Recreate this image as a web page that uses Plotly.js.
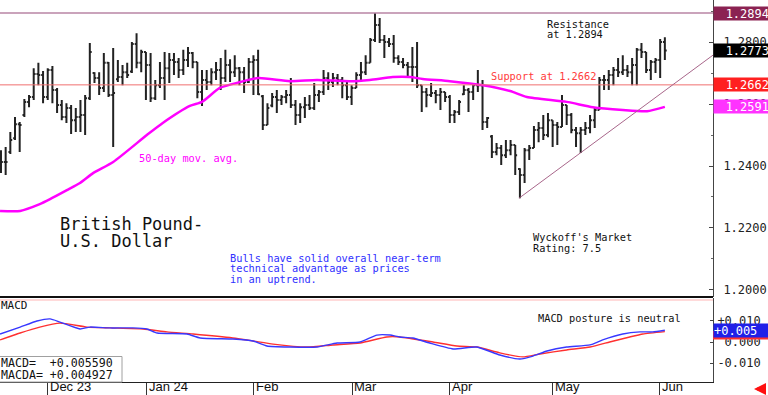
<!DOCTYPE html>
<html>
<head>
<meta charset="utf-8">
<script src="https://cdn.plot.ly/plotly-3.0.1.min.js"></script>
<style>html,body{margin:0;padding:0;background:#fff;}#chart{width:768px;height:395px;}</style>
</head>
<body>
<div id="chart"></div>
<script>
// ---- Data ----
const highs = [1.2451,1.2461,1.2510,1.2558,1.2542,1.2616,1.2629,1.2716,1.2733,1.2707,
1.2716,1.2723,1.2652,1.2613,1.2603,1.2597,1.2587,1.2613,1.2629,1.2797,
1.2703,1.2703,1.2765,1.2736,1.2781,1.2742,1.2726,1.2733,1.2800,1.2829,
1.2775,1.2768,1.2765,1.2678,1.2736,1.2768,1.2765,1.2765,1.2749,1.2775,
1.2784,1.2768,1.2736,1.2710,1.2710,1.2716,1.2736,1.2749,1.2775,1.2745,
1.2758,1.2720,1.2720,1.2749,1.2758,1.2775,1.2629,1.2603,1.2636,1.2645,
1.2629,1.2645,1.2684,1.2613,1.2603,1.2623,1.2629,1.2668,1.2645,1.2710,
1.2703,1.2700,1.2697,1.2687,1.2678,1.2661,1.2703,1.2736,1.2758,1.2813,
1.2894,1.2878,1.2823,1.2813,1.2823,1.2758,1.2749,1.2736,1.2784,1.2800,
1.2661,1.2652,1.2668,1.2645,1.2652,1.2639,1.2629,1.2581,1.2613,1.2661,
1.2652,1.2668,1.2710,1.2678,1.2558,1.2500,1.2474,1.2468,1.2484,1.2484,
1.2468,1.2393,1.2458,1.2468,1.2529,1.2542,1.2565,1.2571,1.2548,1.2542,
1.2629,1.2597,1.2571,1.2526,1.2526,1.2542,1.2565,1.2590,1.2687,1.2694,
1.2710,1.2720,1.2749,1.2758,1.2726,1.2749,1.2781,1.2797,1.2768,1.2742,
1.2749,1.2810,1.2816];
const lows = [1.2377,1.2371,1.2439,1.2484,1.2445,1.2558,1.2590,1.2613,1.2661,1.2603,
1.2613,1.2603,1.2571,1.2548,1.2539,1.2503,1.2510,1.2510,1.2500,1.2613,
1.2668,1.2629,1.2639,1.2623,1.2461,1.2671,1.2661,1.2684,1.2700,1.2716,
1.2703,1.2613,1.2607,1.2613,1.2652,1.2613,1.2668,1.2694,1.2684,1.2694,
1.2720,1.2716,1.2619,1.2594,1.2645,1.2661,1.2678,1.2645,1.2671,1.2671,
1.2687,1.2661,1.2636,1.2668,1.2629,1.2629,1.2516,1.2532,1.2590,1.2571,
1.2597,1.2603,1.2587,1.2532,1.2539,1.2555,1.2581,1.2581,1.2607,1.2629,
1.2645,1.2655,1.2661,1.2619,1.2613,1.2597,1.2652,1.2671,1.2694,1.2733,
1.2800,1.2797,1.2749,1.2784,1.2733,1.2726,1.2716,1.2684,1.2671,1.2652,
1.2574,1.2590,1.2623,1.2603,1.2581,1.2607,1.2539,1.2539,1.2565,1.2629,
1.2574,1.2613,1.2639,1.2516,1.2523,1.2426,1.2435,1.2403,1.2426,1.2435,
1.2371,1.2296,1.2345,1.2419,1.2458,1.2477,1.2484,1.2493,1.2461,1.2468,
1.2526,1.2532,1.2506,1.2461,1.2442,1.2500,1.2506,1.2523,1.2581,1.2645,
1.2645,1.2661,1.2687,1.2694,1.2687,1.2661,1.2661,1.2749,1.2700,1.2678,
1.2700,1.2684,1.2742];
const closes = [1.2413,1.2413,1.2484,1.2535,1.2532,1.2607,1.2623,1.2697,1.2694,1.2623,
1.2710,1.2645,1.2597,1.2558,1.2587,1.2548,1.2558,1.2565,1.2619,1.2768,
1.2684,1.2652,1.2733,1.2629,1.2636,1.2687,1.2703,1.2694,1.2794,1.2733,
1.2768,1.2726,1.2619,1.2661,1.2684,1.2716,1.2742,1.2736,1.2710,1.2742,
1.2765,1.2736,1.2639,1.2678,1.2671,1.2703,1.2710,1.2684,1.2726,1.2703,
1.2716,1.2703,1.2671,1.2736,1.2742,1.2632,1.2532,1.2587,1.2623,1.2613,
1.2623,1.2629,1.2597,1.2565,1.2590,1.2597,1.2587,1.2629,1.2639,1.2684,
1.2671,1.2684,1.2678,1.2661,1.2623,1.2652,1.2694,1.2703,1.2733,1.2807,
1.2855,1.2807,1.2800,1.2794,1.2749,1.2736,1.2726,1.2720,1.2720,1.2661,
1.2639,1.2629,1.2636,1.2629,1.2639,1.2623,1.2565,1.2574,1.2607,1.2645,
1.2639,1.2661,1.2661,1.2542,1.2555,1.2445,1.2458,1.2435,1.2451,1.2468,
1.2435,1.2371,1.2451,1.2458,1.2516,1.2523,1.2500,1.2548,1.2532,1.2526,
1.2597,1.2565,1.2516,1.2506,1.2516,1.2523,1.2548,1.2581,1.2678,1.2678,
1.2694,1.2710,1.2703,1.2710,1.2703,1.2726,1.2775,1.2768,1.2710,1.2736,
1.2742,1.2800,1.2773];
const opens = [1.2440,1.2413,1.2445,1.2490,1.2535,1.2565,1.2607,1.2623,1.2697,1.2694,
1.2623,1.2710,1.2645,1.2597,1.2558,1.2587,1.2548,1.2558,1.2565,1.2619,
1.2700,1.2684,1.2652,1.2733,1.2629,1.2680,1.2687,1.2703,1.2705,1.2794,
1.2733,1.2768,1.2726,1.2619,1.2661,1.2684,1.2716,1.2742,1.2736,1.2710,
1.2742,1.2765,1.2736,1.2639,1.2678,1.2671,1.2703,1.2710,1.2684,1.2726,
1.2703,1.2716,1.2703,1.2671,1.2736,1.2742,1.2625,1.2532,1.2595,1.2623,
1.2613,1.2623,1.2629,1.2597,1.2565,1.2590,1.2597,1.2587,1.2629,1.2639,
1.2684,1.2671,1.2684,1.2678,1.2661,1.2623,1.2652,1.2694,1.2703,1.2733,
1.2807,1.2855,1.2807,1.2800,1.2794,1.2749,1.2736,1.2726,1.2720,1.2720,
1.2661,1.2639,1.2629,1.2636,1.2629,1.2639,1.2623,1.2565,1.2574,1.2632,
1.2645,1.2639,1.2661,1.2661,1.2542,1.2495,1.2445,1.2458,1.2435,1.2451,
1.2468,1.2390,1.2371,1.2451,1.2458,1.2516,1.2523,1.2500,1.2548,1.2532,
1.2526,1.2597,1.2565,1.2516,1.2506,1.2516,1.2523,1.2548,1.2581,1.2678,
1.2678,1.2694,1.2710,1.2703,1.2710,1.2703,1.2726,1.2775,1.2768,1.2710,
1.2736,1.2742,1.2800];

// 50-day moving average, sampled points (bar position, price)
const maPos = [-0.2,4.1,8.3,10.5,14.1,16.9,19.7,24.0,31.2,34.6,40.4,43.0,46.8,51.1,55.0,61.8,67.6,74.6,78.9,83.8,87.5,90.2,96.0,103.1,108.9,112.5,121.0,126.6,133.0,138.2,142.0];
const maVal = [1.2255,1.2255,1.2277,1.2293,1.2322,1.2345,1.2377,1.2413,1.2500,1.2539,1.2594,1.2607,1.2652,1.2671,1.2684,1.2674,1.2678,1.2674,1.2678,1.2687,1.2687,1.2681,1.2674,1.2661,1.2642,1.2623,1.2607,1.2590,1.2581,1.2577,1.2591];

// MACD (blue) and MACDA (red) sampled points
const macdPos = [-0.2,4.1,7.7,10.5,12.6,16.9,19.0,23.3,28.2,31.2,33.4,39.8,42.6,49.6,53.9,56.9,61.8,67.6,71.9,76.8,80.4,83.2,85.3,88.1,91.7,96.7,101.8,106.7,111.0,113.8,116.8,121.0,126.0,128.7,133.0,136.7,139.4,142.0];
const macdVal = [0.0038,0.0071,0.0100,0.0110,0.0095,0.0062,0.0071,0.0067,0.0067,0.0062,0.0043,0.0038,0.0019,0.0014,0.0005,-0.0019,-0.0024,-0.0024,-0.0005,0.0000,0.0033,0.0033,0.0024,0.0019,-0.0005,-0.0033,-0.0024,-0.0062,-0.0081,-0.0067,-0.0043,-0.0024,-0.0014,0.0010,0.0038,0.0048,0.0048,0.00559];
const macdaPos = [-0.2,4.1,8.3,12.6,18.4,23.3,30.4,35.5,41.1,49.6,53.9,58.2,65.4,71.0,76.8,82.5,85.3,92.4,97.5,101.8,106.7,111.6,115.3,121.0,126.0,130.2,134.5,137.3,142.0];
const macdaVal = [0.0010,0.0043,0.0071,0.0090,0.0071,0.0067,0.0062,0.0048,0.0038,0.0019,0.0005,-0.0010,-0.0024,-0.0014,-0.0005,0.0024,0.0024,0.0000,-0.0019,-0.0024,-0.0052,-0.0071,-0.0057,-0.0038,-0.0024,0.0000,0.0024,0.0038,0.004927];

// Levels and trend line
const resistance = 1.2894;
const support = 1.2662;
const lastClose = 1.2773;
const lastMA = 1.2591;
const trendPos = [110.8, 152.3];
const trendVal = [1.2296, 1.2758];

// Axis ticks
const monthPos = [10.05, 31.2, 54.1, 75.1, 96.0, 118.0, 140.9];
const monthText = ['Dec 23', 'Jan 24', 'Feb', 'Mar', 'Apr', 'May', 'Jun'];
const priceTicks = [1.20, 1.22, 1.24, 1.26, 1.28];
const priceTickText = ['1.2000', '1.2200', '1.2400', '1.2600', '1.2800'];
const macdTicks = [-0.01, 0, 0.01];
const macdTickText = ['-0.010', '\u00a00.000', '+0.010'];

// ---- Chart ----
const barPos = highs.map((_, i) => i);
const MONO = 'DejaVu Sans Mono';

const traces = [
  {
    type: 'ohlc', x: barPos, open: opens, high: highs, low: lows, close: closes,
    xaxis: 'x', yaxis: 'y', tickwidth: 0.4,
    increasing: {line: {color: '#222', width: 2}},
    decreasing: {line: {color: '#222', width: 2}},
    hoverinfo: 'skip'
  },
  {
    type: 'scatter', mode: 'lines', x: maPos, y: maVal, xaxis: 'x', yaxis: 'y',
    line: {color: '#ff00ff', width: 2.5, shape: 'spline', smoothing: 0.6}, hoverinfo: 'skip'
  },
  {
    type: 'scatter', mode: 'lines', x: macdaPos, y: macdaVal, xaxis: 'x', yaxis: 'y2',
    line: {color: '#ff3030', width: 1.4, shape: 'spline', smoothing: 0.5}, hoverinfo: 'skip'
  },
  {
    type: 'scatter', mode: 'lines', x: macdPos, y: macdVal, xaxis: 'x', yaxis: 'y2',
    line: {color: '#3838ff', width: 1.4, shape: 'spline', smoothing: 0.5}, hoverinfo: 'skip'
  }
];

const H = 382; // plot height in px
const W = 713;
const py = p => 1 - p / H;
const px = p => p / W;

function boxLabel(y, yref, text, bg, align) {
  return {xref: 'paper', x: 1, xanchor: 'left', yref: yref, y: y, yanchor: 'middle',
    text: text, showarrow: false, width: 55, height: 13, bgcolor: bg, borderpad: 0,
    align: align || 'right', font: {family: MONO, size: 12, color: '#fff'}};
}
function note(x, y, text, color, size, family) {
  return {xref: 'paper', yref: 'paper', x: x, y: y, xanchor: 'left', yanchor: 'middle',
    text: text, showarrow: false, borderpad: 0,
    font: {family: family || MONO, size: size, color: color}};
}

const annotations = [
  boxLabel(resistance, 'y', resistance.toFixed(4), '#8b2252'),
  boxLabel(lastClose, 'y', lastClose.toFixed(4), '#000000'),
  boxLabel(support, 'y', support.toFixed(4), '#ff2020'),
  boxLabel(lastMA, 'y', lastMA.toFixed(4), '#ff33ff'),
  boxLabel(macdVal[macdVal.length - 1], 'y2', '+0.005', '#2020e8', 'left'),
  note(px(546), py(23.5), 'Resistance', '#111', 10.3),
  note(px(546), py(33.5), 'at 1.2894', '#111', 10.3),
  note(px(490), py(75.5), 'Support at 1.2662', '#ff3b3b', 10.3),
  note(px(138), py(157.5), '50-day mov. avg.', '#ff00ff', 10.3),
  note(px(59), py(223.5), 'British Pound-', '#111', 17),
  note(px(59), py(240.5), 'U.S. Dollar', '#111', 17),
  note(px(229), py(257.5), 'Bulls have solid overall near-term', '#3030ff', 10.3),
  note(px(229), py(268), 'technical advantage as prices', '#3030ff', 10.3),
  note(px(229), py(278.5), 'in an uptrend.', '#3030ff', 10.3),
  note(px(532), py(237), "Wyckoff's Market", '#111', 10.3),
  note(px(532), py(247.5), 'Rating: 7.5', '#111', 10.3),
  note(px(537), py(318), 'MACD posture is neutral', '#111', 10.3),
  note(0, py(305), 'MACD', '#111', 11),
  note(0, py(362.5), 'MACD=\u00a0\u00a0+0.005590', '#111', 11.6),
  note(0, py(374.5), 'MACDA=\u00a0+0.004927', '#111', 11.6),
  {xref: 'paper', yref: 'paper', x: px(754), y: py(389), ax: 12, ay: 0, axref: 'pixel', ayref: 'pixel',
   text: '', showarrow: true, arrowhead: 2, arrowsize: 0.8, arrowwidth: 3, arrowcolor: '#ff1010'}
];
monthPos.forEach((m, i) => {
  annotations.push({xref: 'x', yref: 'paper', x: m, y: py(395), xanchor: 'left', yanchor: 'bottom',
    xshift: 1, text: monthText[i], showarrow: false, borderpad: 0,
    font: {family: 'Liberation Sans', size: 13, color: '#111'}});
});

const lastMacda = macdaVal[macdaVal.length - 1];
const shapes = [
  {type: 'line', xref: 'paper', yref: 'y', x0: 0, x1: 1, y0: resistance, y1: resistance,
   line: {color: '#b884a4', width: 1.5}},
  {type: 'line', xref: 'paper', yref: 'y', x0: 0, x1: 1, y0: support, y1: support,
   line: {color: '#f07070', width: 1}},
  {type: 'line', xref: 'x', yref: 'y', x0: trendPos[0], x1: trendPos[1], y0: trendVal[0], y1: trendVal[1],
   line: {color: '#a8668a', width: 1}},
  {type: 'line', xref: 'paper', yref: 'y2', x0: 0, x1: 1, y0: 0.02, y1: 0.02,
   line: {color: '#ffb4b4', width: 1}},
  {type: 'line', xref: 'paper', yref: 'paper', x0: 0, x1: 1, y0: py(297), y1: py(297),
   line: {color: '#111', width: 2}},
  {type: 'rect', xref: 'paper', yref: 'paper', x0: -0.01, x1: px(122), y0: 0, y1: py(356.5),
   line: {color: '#a0a0a0', width: 1}, fillcolor: 'rgba(255,255,255,0)'},
  // MACDA value box, mostly hidden behind the MACD box
  {type: 'rect', xref: 'paper', yref: 'y2', x0: 1, x1: 768 / W, y0: lastMacda - 0.0037, y1: lastMacda + 0.0003,
   line: {width: 0}, fillcolor: '#ff3030'}
];

const layout = {
  width: 768, height: 395,
  margin: {l: 0, r: 55, t: 0, b: 13, pad: 0},
  paper_bgcolor: '#fff', plot_bgcolor: '#fff',
  showlegend: false,
  xaxis: {
    range: [-0.21, 152.3], anchor: 'y2', domain: [0, 1],
    showgrid: false, zeroline: false, showline: true, linecolor: '#222', linewidth: 1,
    ticks: 'outside', ticklen: 13, tickwidth: 1, tickcolor: '#333',
    tickmode: 'array', tickvals: monthPos, showticklabels: false,
    rangeslider: {visible: false}, fixedrange: true
  },
  yaxis: {
    domain: [py(297), 1], range: [1.1977, 1.2936], side: 'right', anchor: 'x',
    showgrid: false, zeroline: false, showline: true, linecolor: '#444', linewidth: 1,
    tickmode: 'array', tickvals: priceTicks, ticktext: priceTickText,
    ticks: 'inside', ticklen: 4, tickcolor: '#444', ticklabelstandoff: 7,
    minor: {ticks: 'inside', ticklen: 2, dtick: 0.01, tickcolor: '#666'},
    tickfont: {family: MONO, size: 12, color: '#222'}, fixedrange: true
  },
  yaxis2: {
    domain: [0, py(298)], range: [-0.01905, 0.02095], side: 'right', anchor: 'x',
    showgrid: false, zeroline: false, showline: true, linecolor: '#444', linewidth: 1,
    tickmode: 'array', tickvals: macdTicks, ticktext: macdTickText,
    ticks: 'inside', ticklen: 3, tickcolor: '#444', ticklabelstandoff: 1,
    tickfont: {family: MONO, size: 12, color: '#222'}, fixedrange: true
  },
  annotations: annotations,
  shapes: shapes
};

Plotly.newPlot('chart', traces, layout, {staticPlot: true, displayModeBar: false});
</script>
</body>
</html>
